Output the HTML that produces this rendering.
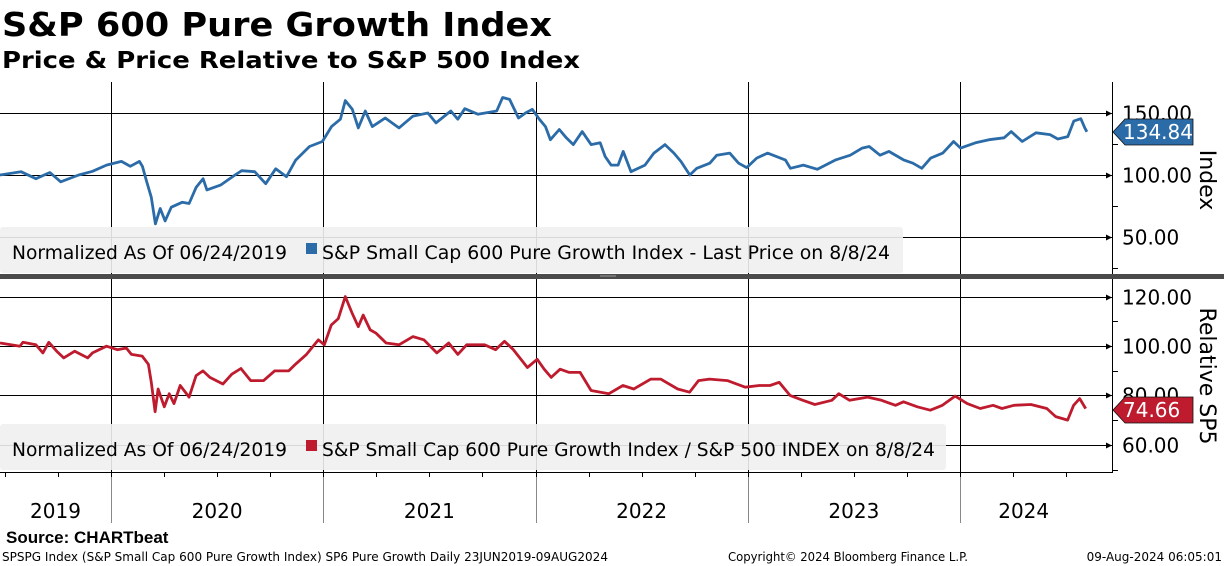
<!DOCTYPE html>
<html><head><meta charset="utf-8"><style>
html,body{margin:0;padding:0;background:#fff;}
svg{display:block;font-family:"DejaVu Sans","Liberation Sans",sans-serif;}
</style></head><body>
<svg id="chart" width="1224" height="566" viewBox="0 0 1224 566" xmlns="http://www.w3.org/2000/svg">
<text x="2" y="36" font-size="33" font-weight="bold" textLength="550" lengthAdjust="spacingAndGlyphs">S&amp;P 600 Pure Growth Index</text>
<text x="2" y="68" font-size="23" font-weight="bold" textLength="578" lengthAdjust="spacingAndGlyphs">Price &amp; Price Relative to S&amp;P 500 Index</text>
<g id="grid"></g>
<g id="lines"></g>
<g id="legends"></g>
<g id="axes"></g>
<rect x="0" y="274" width="1224" height="5" fill="#4a4a4a"/>
<line x1="600" y1="276" x2="616" y2="276" stroke="#999" stroke-width="1"/>
<text x="6" y="543" font-size="17" font-weight="bold" font-family="Liberation Sans, sans-serif">Source: CHARTbeat</text>
<text x="2" y="561" font-size="12" textLength="606" lengthAdjust="spacingAndGlyphs">SPSPG Index (S&amp;P Small Cap 600 Pure Growth Index) SP6 Pure Growth  Daily 23JUN2019-09AUG2024</text>
<text x="728" y="561" font-size="12" textLength="240" lengthAdjust="spacingAndGlyphs">Copyright© 2024 Bloomberg Finance L.P.</text>
<text x="1222" y="561" font-size="12" text-anchor="end">09-Aug-2024 06:05:01</text>
</svg>
<script>
const priceDates=[2019.477,2019.576,2019.646,2019.712,2019.763,2019.848,2019.913,2019.979,2020.049,2020.091,2020.134,2020.148,2020.166,2020.190,2020.209,2020.232,2020.255,2020.284,2020.335,2020.368,2020.401,2020.434,2020.452,2020.518,2020.584,2020.616,2020.677,2020.729,2020.776,2020.827,2020.870,2020.935,2020.996,2021.039,2021.081,2021.104,2021.137,2021.165,2021.198,2021.231,2021.292,2021.357,2021.423,2021.493,2021.531,2021.601,2021.634,2021.667,2021.728,2021.817,2021.845,2021.878,2021.920,2021.953,2021.985,2022.018,2022.047,2022.070,2022.112,2022.145,2022.178,2022.220,2022.262,2022.305,2022.328,2022.356,2022.389,2022.413,2022.450,2022.516,2022.558,2022.610,2022.652,2022.685,2022.727,2022.760,2022.821,2022.854,2022.915,2022.957,2022.995,2023.042,2023.093,2023.178,2023.201,2023.262,2023.328,2023.412,2023.483,2023.539,2023.572,2023.623,2023.665,2023.736,2023.778,2023.820,2023.862,2023.919,2023.970,2024.003,2024.073,2024.137,2024.208,2024.241,2024.293,2024.358,2024.424,2024.461,2024.508,2024.536,2024.569,2024.588,2024.598];
const priceValues=[100,102.7,97,102,94.5,100,103,108,111,107,111,107,96,82,60.6,73,63,74,78,77,90,97,88,92,100,103.5,102.7,93,105,98.6,112,123,127,139,145,160,153,138,151.6,139,146,138,147.5,150,142,151.6,145,153.5,149,151.6,162.5,161,146,150,153,145,139,128.5,136.7,130,124.5,135,124.5,126,115,108,108,119,102.7,108,117.7,124.5,117.7,111,100,105.4,109.5,116,117.7,109.5,106,113.6,117.7,112,105.4,108,104.6,112,116,121.7,123,116,119,112,109.5,105.4,113.6,117.7,127,121.7,126,128.5,130,135,127,134,132.6,129,131,143.5,145.4,138,134.84];
const relDates=[2019.477,2019.529,2019.571,2019.585,2019.646,2019.679,2019.707,2019.744,2019.777,2019.829,2019.890,2019.913,2019.979,2020.030,2020.072,2020.096,2020.147,2020.176,2020.190,2020.208,2020.222,2020.251,2020.274,2020.297,2020.326,2020.368,2020.401,2020.433,2020.466,2020.527,2020.569,2020.612,2020.658,2020.719,2020.771,2020.837,2020.869,2020.921,2020.977,2021.005,2021.038,2021.071,2021.104,2021.137,2021.165,2021.188,2021.221,2021.249,2021.296,2021.357,2021.423,2021.474,2021.535,2021.591,2021.634,2021.676,2021.760,2021.812,2021.854,2021.896,2021.962,2022.008,2022.041,2022.074,2022.116,2022.159,2022.210,2022.262,2022.346,2022.412,2022.463,2022.543,2022.590,2022.670,2022.726,2022.768,2022.820,2022.904,2022.988,2023.054,2023.105,2023.148,2023.199,2023.260,2023.316,2023.396,2023.429,2023.480,2023.565,2023.630,2023.696,2023.734,2023.799,2023.860,2023.917,2023.977,2024.034,2024.095,2024.156,2024.198,2024.254,2024.334,2024.409,2024.451,2024.507,2024.535,2024.564,2024.592];
const relValues=[101.2,100.5,99.9,101.5,100.5,97.2,101.5,97.9,95.2,97.9,95.2,97.2,99.9,98.5,99.2,96.6,95.9,92.6,85.3,73.4,82.6,75.4,80.7,76.7,84,79.3,88,89.9,87.3,84.6,88.6,90.9,86,86,89.9,89.9,92.6,96.6,102.5,100.5,108.5,111.1,120,113.1,107.8,112.5,106.5,105.2,101.2,100.5,103.8,102.5,97.2,101.2,96.6,100.5,100.5,98.5,101.9,98.5,91.3,94.6,90.6,87.3,90.6,89.3,89.3,82,80.7,84,82.6,86.6,86.6,82.6,81.3,86,86.6,86,83.3,84,84,85.3,80,78,76.3,78,80.7,78,79.3,78,76,77.4,75.4,74,76,79.7,76.7,74.7,76,74.7,76,76.3,74.7,71.4,70,76,78.7,74.66];
const yearLabels=["2019","2020","2021","2022","2023","2024"];
const yearStarts=[2020,2021,2022,2023,2024];
const priceTicks=[150,100,50];
const relTicks=[120,100,80,60];
const lastPrice=134.84, lastRel=74.66;

const NS="http://www.w3.org/2000/svg";
const AX=1112;
function xS(t){return 111+(t-2020)*212.25;}
function yTop(v){return 175-(v-100)*1.24;}
function yBot(v){return 346-(v-100)*2.47;}
function mk(tag,attrs,parent){const e=document.createElementNS(NS,tag);for(const k in attrs)e.setAttribute(k,attrs[k]);document.getElementById(parent).appendChild(e);return e;}

yearStarts.forEach(y=>{
  const x=Math.round(xS(y))+0.5;
  const l1=mk('line',{x1:x,y1:82,x2:x,y2:274,stroke:'#000','stroke-width':1},'grid');
  
  
  const l2=mk('line',{x1:x,y1:279,x2:x,y2:472,stroke:'#000','stroke-width':1},'grid');
  
  
  const l3=mk('line',{x1:x,y1:472,x2:x,y2:523,stroke:'#888','stroke-width':1},'grid');
  
  
});
priceTicks.forEach(v=>{
  const y=Math.round(yTop(v))+0.5;
  const l=mk('line',{x1:0,y1:y,x2:AX,y2:y,stroke:'#000','stroke-width':1},'grid');
  
  
  mk('path',{d:`M${AX-6},${y-3}L${AX},${y}L${AX-6},${y+3}Z`,fill:'#000'},'axes');
  const t=mk('text',{x:1122,y:y+7,'font-size':20},'axes');
  t.textContent=v.toFixed(2);
  
  
});
[125,75,25].forEach(v=>{const y=Math.round(yTop(v))+0.5;mk('line',{x1:AX,y1:y,x2:AX+6,y2:y,stroke:'#000'},'axes');});
relTicks.forEach(v=>{
  const y=Math.round(yBot(v))+0.5;
  const l=mk('line',{x1:0,y1:y,x2:AX,y2:y,stroke:'#000','stroke-width':1},'grid');
  
  
  mk('path',{d:`M${AX-6},${y-3}L${AX},${y}L${AX-6},${y+3}Z`,fill:'#000'},'axes');
  const t=mk('text',{x:1122,y:y+7,'font-size':20},'axes');
  t.textContent=v.toFixed(2);
  
  
});
[110,90,70,50].forEach(v=>{const y=Math.round(yBot(v))+0.5;mk('line',{x1:AX,y1:y,x2:AX+6,y2:y,stroke:'#000'},'axes');});
mk('line',{x1:AX+0.5,y1:82,x2:AX+0.5,y2:274,stroke:'#000'},'axes');
mk('line',{x1:AX+0.5,y1:279,x2:AX+0.5,y2:473,stroke:'#000'},'axes');
mk('line',{x1:0,y1:472.5,x2:AX,y2:472.5,stroke:'#000'},'axes');
for(let q=2019.5;q<2024.8;q+=0.25){const x=Math.round(xS(q))+0.5;if(x>=0&&x<AX)mk('line',{x1:x,y1:472,x2:x,y2:477,stroke:'#000'},'axes');}
yearLabels.forEach((lab,i)=>{
  const a=i===0?0:xS(yearStarts[i-1]);
  const b=i<yearStarts.length?xS(yearStarts[i]):xS(2024.6);
  const t=mk('text',{x:(a+b)/2,y:518,'font-size':20,'text-anchor':'middle'},'axes');
  t.textContent=lab;
  
  
});
function pathFrom(ds,vs,yf){return ds.map((d,i)=>(i?'L':'M')+xS(d).toFixed(1)+','+yf(vs[i]).toFixed(1)).join('');}
const pl=mk('path',{d:pathFrom(priceDates,priceValues,yTop),fill:'none',stroke:'#2b6ca8','stroke-width':2.8,'stroke-linejoin':'round'},'lines');


const rl=mk('path',{d:pathFrom(relDates,relValues,yBot),fill:'none',stroke:'#be1b2e','stroke-width':2.8,'stroke-linejoin':'round'},'lines');


function legend(y0,w,color,text,textEnd,name){
  const g=mk('g',{},'legends');
  
  
  const r=document.createElementNS(NS,'rect');
  [['x',0],['y',y0],['width',w],['height',46],['rx',3],['fill','#efefef'],['fill-opacity',0.9]].forEach(p=>r.setAttribute(p[0],p[1]));g.appendChild(r);
  const t1=document.createElementNS(NS,'text');
  [['x',12],['y',y0+32],['font-size',19],['textLength',275],['lengthAdjust','spacingAndGlyphs']].forEach(p=>t1.setAttribute(p[0],p[1]));
  t1.textContent='Normalized As Of 06/24/2019';g.appendChild(t1);
  const s=document.createElementNS(NS,'rect');
  [['x',306],['y',y0+16],['width',11],['height',11],['fill',color]].forEach(p=>s.setAttribute(p[0],p[1]));g.appendChild(s);
  const t2=document.createElementNS(NS,'text');
  [['x',322],['y',y0+32],['font-size',19],['textLength',textEnd-322],['lengthAdjust','spacingAndGlyphs']].forEach(p=>t2.setAttribute(p[0],p[1]));
  t2.textContent=text;g.appendChild(t2);
}
legend(227,903,'#2b6ca8','S&P Small Cap 600 Pure Growth Index - Last Price on 8/8/24',890,'price-legend');
legend(424,946,'#be1b2e','S&P Small Cap 600 Pure Growth Index / S&P 500 INDEX on 8/8/24',935,'relative-legend');
function tag(y,color,val,name){
  const yc=Math.round(y);
  const p=mk('path',{d:`M${AX+1},${yc}L${AX+13},${yc-13}L1193,${yc-13}L1193,${yc+13}L${AX+13},${yc+13}Z`,fill:color,stroke:'#111','stroke-width':0.8},'axes');
  
  
  const t=mk('text',{x:1123,y:yc+7,'font-size':20,fill:'#fff'},'axes');
  t.textContent=val.toFixed(2);
  
  
}
tag(yTop(lastPrice),'#2b6ca8',lastPrice,'last-price-tag');
tag(yBot(lastRel)+1,'#be1b2e',lastRel,'last-relative-tag');
const a1=mk('text',{x:0,y:0,'font-size':22,'text-anchor':'middle',transform:'translate(1200,180) rotate(90)'},'axes');
a1.textContent='Index';


const a2=mk('text',{x:0,y:0,'font-size':22,'text-anchor':'middle',transform:'translate(1200,376) rotate(90)'},'axes');
a2.textContent='Relative SP5';


</script>
</body></html>
